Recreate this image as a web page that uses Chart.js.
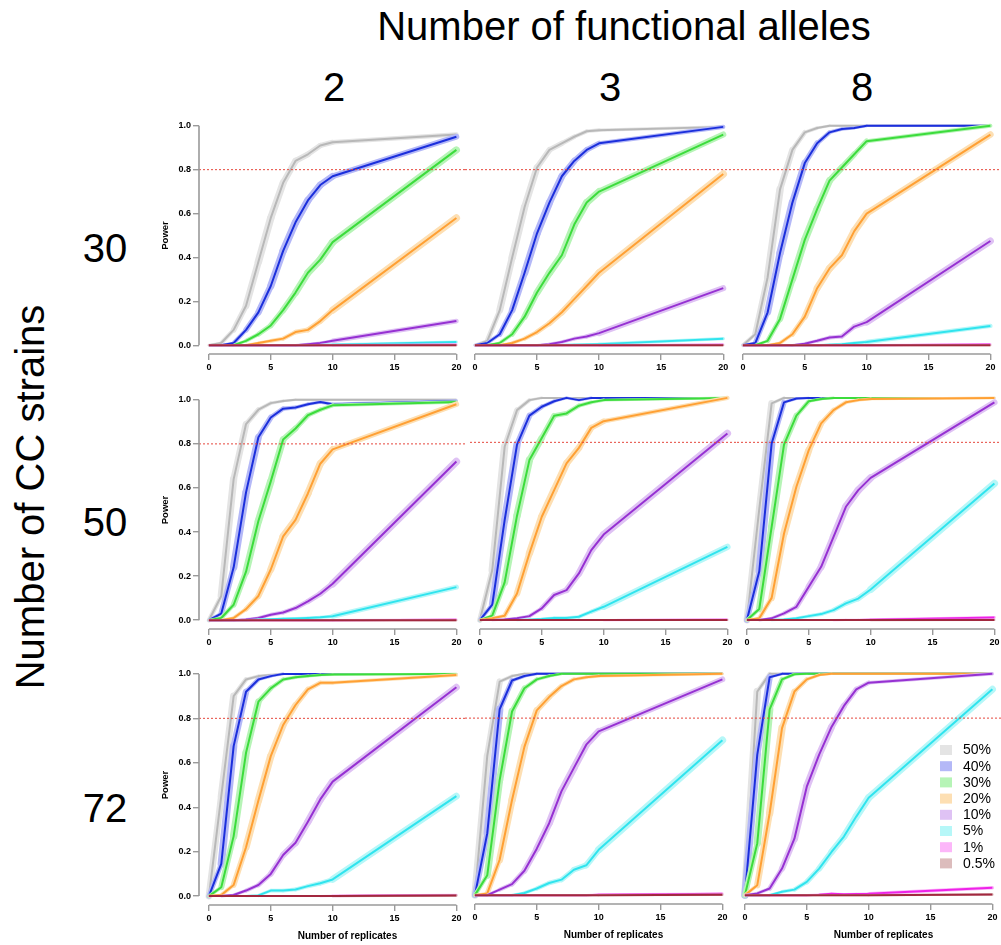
<!DOCTYPE html>
<html><head><meta charset="utf-8">
<script src="https://cdn.jsdelivr.net/npm/chart.js@4.4.1/dist/chart.umd.min.js"></script>
<style>
html,body{margin:0;padding:0;background:#fff;overflow:hidden;width:1001px;height:945px;}
body{position:relative;font-family:"Liberation Sans",Arial,Helvetica,sans-serif;}
canvas{position:absolute;}
.big{position:absolute;font-size:40px;line-height:40px;color:#000;white-space:nowrap;text-align:center;}
</style></head><body>
<script>
// ---------------- DATA ----------------
const REPLICATES = [0,1,2,3,4,5,6,7,8,9,10,20];
const X_TICKS = [0,5,10,15,20];
const Y_TICKS = [0,0.2,0.4,0.6,0.8,1.0];
const THRESHOLD = 0.8;
const EFFECT_LABELS = ['50%','40%','30%','20%','10%','5%','1%','0.5%'];
const ALLELES = ['2','3','8'];
const STRAINS = ['30','50','72'];
const MAIN_TITLE = 'Number of functional alleles';
const ROW_TITLE = 'Number of CC strains';
const X_TITLE = 'Number of replicates';
const Y_TITLE = 'Power';

// rows: effect sizes (EFFECT_LABELS order); columns: REPLICATES
const POWER_30_2 = [
  [0,0.01,0.07,0.18,0.38,0.58,0.74,0.84,0.87,0.91,0.925,0.96],
  [0,0,0.01,0.07,0.15,0.27,0.43,0.56,0.66,0.73,0.77,0.95],
  [0,0,0,0.02,0.05,0.09,0.16,0.24,0.33,0.39,0.47,0.89],
  [0,0,0,0,0.01,0.02,0.03,0.06,0.07,0.11,0.16,0.58],
  [0,0,0,0,0,0,0,0,0.005,0.01,0.02,0.11],
  [0,0,0,0,0,0,0,0,0,0.001,0.002,0.015],
  [0,0,0,0,0,0,0,0,0,0,0,0.002],
  [0,0,0,0,0,0,0,0,0,0,0,0]
];
const POWER_30_3 = [
  [0,0.02,0.16,0.40,0.63,0.81,0.89,0.92,0.95,0.975,0.98,0.995],
  [0,0.01,0.05,0.16,0.33,0.51,0.65,0.77,0.84,0.89,0.92,0.995],
  [0,0,0.01,0.05,0.13,0.24,0.33,0.41,0.55,0.65,0.70,0.96],
  [0,0,0,0.01,0.03,0.06,0.10,0.15,0.21,0.27,0.33,0.78],
  [0,0,0,0,0,0,0.005,0.015,0.03,0.04,0.055,0.26],
  [0,0,0,0,0,0,0,0.001,0.002,0.003,0.005,0.03],
  [0,0,0,0,0,0,0,0,0,0,0,0.002],
  [0,0,0,0,0,0,0,0,0,0,0,0]
];
const POWER_30_8 = [
  [0,0.05,0.31,0.71,0.89,0.97,0.99,1,1,1,1,1],
  [0,0.01,0.15,0.42,0.65,0.83,0.92,0.97,0.985,0.99,1,1],
  [0,0,0.02,0.12,0.30,0.48,0.62,0.75,0.81,0.87,0.93,1.0],
  [0,0,0,0.01,0.05,0.13,0.26,0.35,0.41,0.52,0.60,0.96],
  [0,0,0,0,0,0.007,0.02,0.035,0.04,0.085,0.105,0.475],
  [0,0,0,0,0,0,0,0.002,0.005,0.01,0.015,0.088],
  [0,0,0,0,0,0,0,0,0,0,0,0.003],
  [0,0,0,0,0,0,0,0,0,0,0,0]
];
const POWER_50_2 = [
  [0,0.11,0.64,0.89,0.955,0.985,0.995,1,1,1,1,1],
  [0,0.03,0.24,0.58,0.83,0.92,0.96,0.965,0.98,0.99,0.98,0.995],
  [0,0.01,0.07,0.22,0.45,0.63,0.82,0.87,0.93,0.955,0.975,0.99],
  [0,0,0.01,0.05,0.11,0.23,0.38,0.455,0.575,0.71,0.775,0.98],
  [0,0,0,0.003,0.01,0.025,0.035,0.055,0.085,0.12,0.165,0.72],
  [0,0,0,0,0.002,0.004,0.006,0.008,0.01,0.013,0.018,0.15],
  [0,0,0,0,0,0,0,0,0,0,0,0.002],
  [0,0,0,0,0,0,0,0,0,0,0,0]
];
const POWER_50_3 = [
  [0,0.225,0.78,0.945,0.99,1,1,1,1,1,1,1],
  [0,0.07,0.45,0.79,0.92,0.96,0.985,1,0.99,1,1,1],
  [0,0.02,0.17,0.47,0.72,0.82,0.92,0.93,0.965,0.98,0.99,1],
  [0,0.008,0.02,0.12,0.30,0.465,0.585,0.705,0.775,0.865,0.895,1.0],
  [0,0,0.003,0.008,0.018,0.053,0.113,0.135,0.21,0.315,0.385,0.84],
  [0,0,0,0,0.002,0.005,0.01,0.01,0.015,0.038,0.06,0.33],
  [0,0,0,0,0,0,0,0,0,0,0,0.002],
  [0,0,0,0,0,0,0,0,0,0,0,0]
];
const POWER_50_8 = [
  [0,0.5,0.975,1,1,1,1,1,1,1,1,1],
  [0,0.22,0.795,0.98,0.997,1,1,1,1,1,1,1],
  [0,0.05,0.42,0.79,0.92,0.985,0.995,1,1,1,1,1],
  [0,0.008,0.1,0.39,0.6,0.765,0.885,0.945,0.98,0.99,0.995,1],
  [0,0,0.008,0.03,0.06,0.15,0.24,0.375,0.51,0.585,0.64,0.98],
  [0,0,0,0.003,0.008,0.018,0.027,0.045,0.075,0.097,0.138,0.615],
  [0,0,0,0,0,0,0,0,0.001,0.001,0.002,0.012],
  [0,0,0,0,0,0,0,0,0,0,0,0.001]
];
const POWER_72_2 = [
  [0,0.45,0.9,0.975,0.99,0.995,1,1,1,1,1,1],
  [0,0.145,0.675,0.92,0.975,0.99,1,1,1,1,1,1],
  [0,0.04,0.27,0.645,0.875,0.935,0.975,0.985,0.99,0.995,0.997,1],
  [0,0.005,0.05,0.22,0.43,0.63,0.77,0.86,0.93,0.96,0.96,0.995],
  [0,0,0.005,0.025,0.05,0.1,0.185,0.24,0.335,0.435,0.515,0.94],
  [0,0,0,0,0.003,0.025,0.025,0.03,0.045,0.058,0.075,0.45],
  [0,0,0,0,0,0,0,0,0,0,0.001,0.005],
  [0,0,0,0,0,0,0,0,0,0,0,0.003]
];
const POWER_72_3 = [
  [0,0.63,0.965,0.99,1,1,1,1,1,1,1,1],
  [0,0.28,0.84,0.97,0.99,1,1,1,1,1,1,1],
  [0,0.09,0.52,0.83,0.935,0.975,0.99,1,1,1,1,1],
  [0,0.008,0.16,0.43,0.67,0.835,0.895,0.945,0.975,0.985,0.99,1.0],
  [0,0,0.025,0.05,0.11,0.21,0.325,0.47,0.575,0.68,0.74,0.975],
  [0,0,0,0,0.01,0.03,0.055,0.07,0.115,0.135,0.205,0.70],
  [0,0,0,0,0,0,0,0,0,0,0.002,0.006],
  [0,0,0,0,0,0,0,0,0,0,0,0.002]
];
const POWER_72_8 = [
  [0,0.92,1,1,1,1,1,1,1,1,1,1],
  [0,0.635,0.985,1,1,1,1,1,1,1,1,1],
  [0,0.235,0.84,0.975,0.998,1,1,1,1,1,1,1],
  [0,0.045,0.37,0.755,0.92,0.975,0.995,1,1,1,1,1],
  [0,0.008,0.03,0.12,0.255,0.49,0.635,0.76,0.855,0.93,0.96,1.0],
  [0,0,0,0.015,0.025,0.06,0.12,0.195,0.265,0.355,0.44,0.93],
  [0,0,0,0,0,0,0.002,0.006,0.004,0.005,0.006,0.033],
  [0,0,0,0,0,0,0,0,0,0,0,0.003]
];
const PANELS = [
  [POWER_30_2, POWER_30_3, POWER_30_8],
  [POWER_50_2, POWER_50_3, POWER_50_8],
  [POWER_72_2, POWER_72_3, POWER_72_8]
];

// ---------------- STYLE / LAYOUT ----------------
const LINE_COLORS = ['#b8b8b8','#1b2fdc','#3cdc3c','#ffa034','#9631d2','#30e4ee','#ee22e8','#a2283f'];
const BAND_COLORS = ['#e4e4e4','#b4b8f7','#b6f4b6','#fddfb3','#dfc2f4','#b6f7f8','#fcb6f9','#dcbcbc'];
const AXIS_COLOR = '#9a9a9a';
const XMIN = -0.8, XMAX = 23.2, YMIN = -0.04, YMAX = 1.04;
const X_PLOT_END = 20.8; // right end of the plotted region for the reference line
// pixel anchors of each panel: x=0, x=20, power=1, power=0
const GEOM = [
  [{x0:209,x20:456,y1:126,y0:345},{x0:475,x20:723,y1:126,y0:345},{x0:743,x20:990.5,y1:126,y0:345}],
  [{x0:209,x20:456,y1:399.7,y0:619.7},{x0:480,x20:727,y1:398,y0:620},{x0:746.7,x20:994,y1:397.7,y0:620}],
  [{x0:209,x20:456,y1:674.3,y0:896},{x0:475,x20:722.7,y1:674.3,y0:895},{x0:745,x20:992.7,y1:674.3,y0:895}]
];
const COL_HEAD_X = [334, 610, 862];
const ROW_HEAD_Y = [248, 522, 808];
const LEGEND_POS = {x: 940, y: 750, dy: 16.2, w: 12, h: 10, tx: 963};

Chart.defaults.font.family = '"Liberation Sans", Arial, Helvetica, sans-serif';

// big labels
function bigText(txt, cx, cy, rot) {
  const d = document.createElement('div');
  d.className = 'big';
  d.textContent = txt;
  d.style.width = '600px';
  d.style.left = (cx - 300) + 'px';
  d.style.top = (cy - 20) + 'px';
  if (rot) d.style.transform = 'rotate(-90deg)';
  document.body.appendChild(d);
}
bigText(MAIN_TITLE, 624, 26);
ALLELES.forEach((a, i) => bigText(a, COL_HEAD_X[i], 87));
STRAINS.forEach((s, i) => bigText(s, 105, ROW_HEAD_Y[i]));
bigText(ROW_TITLE, 30, 497, true);

function bandWidth(ctx) {
  const a = ctx.p0.parsed.y, b = ctx.p1.parsed.y;
  const p = Math.min(Math.max((a + b) / 2, 0), 1);
  return 2 + 11 * Math.sqrt(p * (1 - p));
}

const rAxes = {
  id: 'rAxes',
  afterDraw(chart) {
    const {ctx, chartArea, scales} = chart;
    ctx.save();
    ctx.strokeStyle = AXIS_COLOR;
    ctx.lineWidth = 1.6;
    ctx.beginPath();
    ctx.moveTo(scales.x.getPixelForValue(X_TICKS[0]), chartArea.bottom);
    ctx.lineTo(scales.x.getPixelForValue(X_TICKS[X_TICKS.length - 1]), chartArea.bottom);
    if (scales.y.options.display) {
      ctx.moveTo(chartArea.left, scales.y.getPixelForValue(Y_TICKS[0]));
      ctx.lineTo(chartArea.left, scales.y.getPixelForValue(Y_TICKS[Y_TICKS.length - 1]));
    }
    ctx.stroke();
    ctx.restore();
  }
};

const effectLegend = {
  id: 'effectLegend',
  afterDraw(chart, args, opts) {
    if (!opts.show) return;
    const ctx = chart.ctx;
    ctx.save();
    ctx.font = '14px "Liberation Sans", Arial, sans-serif';
    ctx.textBaseline = 'middle';
    ctx.textAlign = 'left';
    EFFECT_LABELS.forEach((lab, i) => {
      const cy = LEGEND_POS.y + i * LEGEND_POS.dy - opts.oy;
      ctx.fillStyle = BAND_COLORS[i];
      ctx.fillRect(LEGEND_POS.x - opts.ox, cy - LEGEND_POS.h / 2, LEGEND_POS.w, LEGEND_POS.h);
      ctx.fillStyle = '#000';
      ctx.fillText(lab, LEGEND_POS.tx - opts.ox, cy + 0.5);
    });
    ctx.restore();
  }
};

function buildDatasets(panel) {
  const layers = [];
  panel.forEach((vals, i) => {
    layers.push({
      label: EFFECT_LABELS[i] + ' band',
      data: REPLICATES.map((x, j) => ({x, y: vals[j]})),
      borderColor: BAND_COLORS[i], borderWidth: 2,
      borderCapStyle: 'round', borderJoinStyle: 'round',
      pointRadius: 0, fill: false, tension: 0,
      segment: {borderWidth: bandWidth}
    });
    layers.push({
      label: EFFECT_LABELS[i],
      data: REPLICATES.map((x, j) => ({x, y: vals[j]})),
      borderColor: LINE_COLORS[i], borderWidth: 2,
      borderJoinStyle: 'round', pointRadius: 0, fill: false, tension: 0
    });
  });
  layers.push({
    label: 'threshold',
    data: [{x: XMIN, y: THRESHOLD}, {x: X_PLOT_END, y: THRESHOLD}],
    borderColor: '#e5463c', borderWidth: 1, borderDash: [2, 2],
    pointRadius: 0, fill: false
  });
  return layers.reverse(); // first dataset is drawn on top in Chart.js
}

PANELS.forEach((row, r) => {
  row.forEach((panel, c) => {
    const g = GEOM[r][c];
    const u = (g.x20 - g.x0) / 20, v = g.y0 - g.y1;
    const caL = g.x0 + XMIN * u, caR = g.x0 + XMAX * u;
    const caT = g.y1 - (YMAX - 1) * v, caB = g.y0 - YMIN * v;
    const yW = c === 0 ? 49 : 0;
    const xH = r === 2 ? 40 : 26;
    const left = Math.round(caL - yW), top = Math.round(caT);
    const cv = document.createElement('canvas');
    cv.width = Math.round(caR - left);
    cv.height = Math.round(caB - top) + xH;
    cv.style.left = left + 'px';
    cv.style.top = top + 'px';
    document.body.appendChild(cv);
    const showLegend = (r === 2 && c === 2);
    new Chart(cv, {
      type: 'line',
      data: {datasets: buildDatasets(panel)},
      plugins: [rAxes, effectLegend],
      options: {
        responsive: false, animation: false, events: [],
        layout: {padding: 0},
        plugins: {
          legend: {display: false}, tooltip: {enabled: false}, title: {display: false},
          effectLegend: {show: showLegend, ox: left, oy: top}
        },
        scales: {
          x: {
            type: 'linear', min: XMIN, max: XMAX, position: 'bottom',
            afterBuildTicks: s => { s.ticks = X_TICKS.map(vv => ({value: vv})); },
            afterFit: s => { s.height = xH; s.paddingLeft = 0; s.paddingRight = 0; },
            ticks: {autoSkip: false, maxRotation: 0, padding: 2, color: '#000',
              font: {size: 9, weight: 'bold'}, callback: vv => String(vv)},
            grid: {drawOnChartArea: false, drawTicks: true, tickLength: 6, color: AXIS_COLOR, lineWidth: 1.4},
            border: {display: false},
            title: {display: r === 2, text: X_TITLE, color: '#000',
              font: {size: 10, weight: 'bold'}, padding: {top: 0, bottom: 3}}
          },
          y: {
            type: 'linear', min: YMIN, max: YMAX, position: 'left', display: c === 0,
            afterBuildTicks: s => { s.ticks = Y_TICKS.map(vv => ({value: vv})); },
            afterFit: s => { s.width = yW; s.paddingTop = 0; s.paddingBottom = 0; },
            ticks: {padding: 2, color: '#000', font: {size: 9, weight: 'bold'},
              callback: vv => Number(vv).toFixed(1)},
            grid: {drawOnChartArea: false, drawTicks: true, tickLength: 6, color: AXIS_COLOR, lineWidth: 1.4},
            border: {display: false},
            title: {display: true, text: Y_TITLE, color: '#000',
              font: {size: 9.5, weight: 'bold'}, padding: {top: 10, bottom: 0}}
          }
        }
      }
    });
  });
});
</script>
</body></html>
